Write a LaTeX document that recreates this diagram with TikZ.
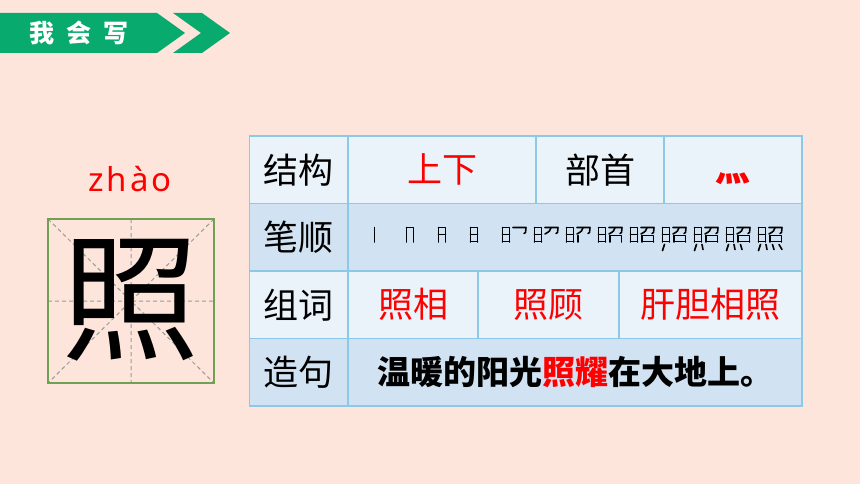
\documentclass[tikz,border=0pt]{standalone}
\usepackage{fontspec}
\setmainfont{Noto Sans}
\newfontfamily\cjk{Noto Sans CJK SC}
\usetikzlibrary{positioning}
\definecolor{bgpeach}{RGB}{253, 229, 220}
\definecolor{bargreen}{RGB}{8, 170, 110}
\definecolor{gridgreen}{RGB}{112, 160, 84}
\definecolor{gridgray}{RGB}{150, 158, 150}
\definecolor{rowlight}{RGB}{234, 242, 250}
\definecolor{rowdark}{RGB}{209, 227, 243}
\definecolor{cellline}{RGB}{140, 200, 232}
\definecolor{wordred}{RGB}{255, 0, 0}

% strokes of the character, one per number
\newcommand{\zhaobihua}[1]{%
  \ifcase#1\or
    \draw[bihua] (0.5,0.5) -- (0.5,15);\or
    \draw[bihua] (0.5,0.5) -- (7.5,0.5) -- (7.5,15);\or
    \draw[bihua] (0.5,7.5) -- (7.5,7.5);\or
    \draw[bihua] (0.5,14.5) -- (7.5,14.5);\or
    \draw[bihua] (11,0.5) -- (24,0.5) -- (23.5,5.5) -- (22,6.5);\or
    \draw[bihua] (17,0.8) .. controls (16,4) .. (11,7);\or
    \draw[bihua] (12,8.5) -- (12,15);\or
    \draw[bihua] (12,8.5) -- (23.5,8.5) -- (23.5,15);\or
    \draw[bihua] (12,14.5) -- (23.5,14.5);\or
    \draw[bihua] (2.5,17.5) -- (0.5,23.5);\or
    \draw[bihua] (8,17.5) -- (9,22.5);\or
    \draw[bihua] (14.5,17.5) -- (16,22.5);\or
    \draw[bihua] (21,17.5) -- (24,22.5);%
  \fi}

\begin{document}
\begin{tikzpicture}[x=1pt, y=-1pt,
  cell/.style={draw=cellline, line width=1.2pt, minimum height=67.5pt, inner sep=0pt, outer sep=0pt, font=\cjk\fontsize{35}{40}\selectfont},
  bihua/.style={line width=1.6pt, line cap=round, line join=round}]
  \useasboundingbox (0,0) rectangle (860,484);
  \fill[bgpeach] (0,0) rectangle (860,484);

  % Title bar
  \fill[bargreen] (0,13) -- (157,13) -- (185,33) -- (157,53) -- (0,53) -- cycle;
  \fill[bargreen] (173,13) -- (202,13) -- (230,33) -- (202,53) -- (173,53) -- (201,33) -- cycle;
  \node[font=\cjk\bfseries\fontsize{25}{28}\selectfont, text=white] (wohuixie) at (79,33) {我\hspace{12pt}会\hspace{12pt}写};

  % Pinyin and character box
  \node[anchor=base, font=\fontsize{33}{36}\selectfont, text=wordred] (pinyin) at (130,192) {z\kern3pt h\kern3pt à\kern3pt o};
  \draw[gridgray, line width=1pt, dash pattern=on 4pt off 3pt] (48,219) -- (214,383) (214,219) -- (48,383) (131,219) -- (131,383) (48,301) -- (214,301);
  \draw[gridgreen, line width=1.5pt] (48,219) rectangle (214,383);
  \node[font=\cjk\fontsize{138}{140}\selectfont] (bigzi) at (130,300) {照};

  % Row 1
  \node[cell, fill=rowlight, minimum width=98.5pt] (jiegou) at (298.75,169.75) {结构};
  \node[cell, fill=rowlight, minimum width=188pt, text=wordred, right=0pt of jiegou] (shangxia) {上下};
  \node[cell, fill=rowlight, minimum width=128pt, right=0pt of shangxia] (bushou) {部首};
  \node[cell, fill=rowlight, minimum width=138pt, text=wordred, right=0pt of bushou] (huodian) {\bfseries\raisebox{-9pt}[\height][\depth]{灬}};

  % Row 2
  \node[cell, fill=rowdark, minimum width=98.5pt] (bishun) at (298.75,237.25) {笔顺};
  \node[cell, fill=rowdark, minimum width=454pt, right=0pt of bishun] (bishunbox) {};
  \foreach \k in {1,...,13} {
    \begin{scope}[shift={(374+32*\k-32,227)}]
      \foreach \s in {1,...,\k} {\zhaobihua{\s}}
    \end{scope}
  }

  % Row 3
  \node[cell, fill=rowlight, minimum width=98.5pt] (zuci) at (298.75,304.75) {组词};
  \node[cell, fill=rowlight, minimum width=130pt, text=wordred, right=0pt of zuci] (zhaoxiang) {照相};
  \node[cell, fill=rowlight, minimum width=141pt, text=wordred, right=0pt of zhaoxiang] (zhaogu) {照顾};
  \node[cell, fill=rowlight, minimum width=183pt, text=wordred, right=0pt of zhaogu] (gandan) {肝胆相照};

  % Row 4
  \node[cell, fill=rowdark, minimum width=98.5pt] (zaoju) at (298.75,372.25) {造句};
  \node[cell, fill=rowdark, minimum width=454pt, font=\cjk\bfseries\fontsize{33}{38}\selectfont, right=0pt of zaoju] (liju) {温暖的阳光\textcolor{wordred}{照耀}在大地上。};
\end{tikzpicture}
\end{document}
